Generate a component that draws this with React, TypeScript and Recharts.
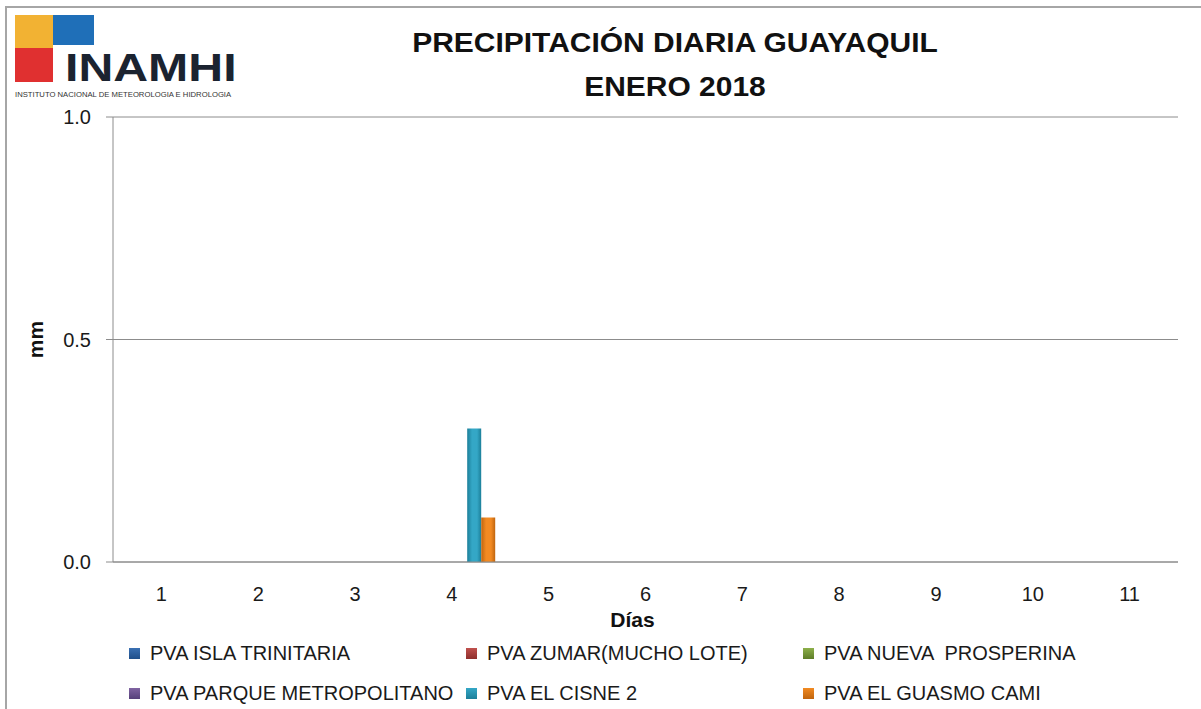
import React from 'react';
import { BarChart, Bar, XAxis, YAxis, CartesianGrid, Legend } from 'recharts';

const dias = ['1', '2', '3', '4', '5', '6', '7', '8', '9', '10', '11'];

const islaTrinitaria = [0, 0, 0, 0, 0, 0, 0, 0, 0, 0, 0];
const zumar = [0, 0, 0, 0, 0, 0, 0, 0, 0, 0, 0];
const nuevaProsperina = [0, 0, 0, 0, 0, 0, 0, 0, 0, 0, 0];
const parqueMetropolitano = [0, 0, 0, 0, 0, 0, 0, 0, 0, 0, 0];
const elCisne2 = [0, 0, 0, 0.3, 0, 0, 0, 0, 0, 0, 0];
const elGuasmoCami = [0, 0, 0, 0.1, 0, 0, 0, 0, 0, 0, 0];

const yTicks = [0, 0.5, 1];

const series = [
  { key: 'isla', name: 'PVA ISLA TRINITARIA', values: islaTrinitaria, color: '#3a70b3', dark: '#1f4f8a' },
  { key: 'zumar', name: 'PVA ZUMAR(MUCHO LOTE)', values: zumar, color: '#c0504d', dark: '#8e2f2c' },
  { key: 'prosperina', name: 'PVA NUEVA  PROSPERINA', values: nuevaProsperina, color: '#8db04a', dark: '#5e7d28' },
  { key: 'parque', name: 'PVA PARQUE METROPOLITANO', values: parqueMetropolitano, color: '#8064a2', dark: '#56407a' },
  { key: 'cisne', name: 'PVA EL CISNE 2', values: elCisne2, color: '#34a7c6', dark: '#1c7f99' },
  { key: 'guasmo', name: 'PVA EL GUASMO CAMI', values: elGuasmoCami, color: '#f28a22', dark: '#c0650e' },
];

const data = dias.map((d, i) => {
  const row: Record<string, string | number> = { dia: d };
  series.forEach((s) => {
    row[s.key] = s.values[i];
  });
  return row;
});

const font = '"Liberation Sans", Arial, sans-serif';

const LegendContent = () => (
  <div style={{ display: 'grid', gridTemplateColumns: '337px 337px 340px', rowGap: 18, fontFamily: font, fontSize: 20, color: '#1a1a1a' }}>
    {series.map((s) => (
      <div key={s.key} style={{ display: 'flex', alignItems: 'center', whiteSpace: 'pre', height: 22 }}>
        <span
          style={{
            display: 'inline-block',
            width: 11,
            height: 11,
            marginRight: 10,
            background: `linear-gradient(to bottom, ${s.color}, ${s.dark})`,
          }}
        />
        {s.name}
      </div>
    ))}
  </div>
);

// logotipo aproximado
const Logo = () => (
  <div style={{ position: 'absolute', left: 15, top: 15, width: 222, height: 84 }}>
    <div style={{ position: 'absolute', left: 0, top: 0, width: 38, height: 33, background: '#f2b233' }} />
    <div style={{ position: 'absolute', left: 38, top: 0, width: 41, height: 30, background: '#1f6fb8' }} />
    <div style={{ position: 'absolute', left: 0, top: 33, width: 38, height: 34, background: '#e03030' }} />
    <div
      style={{
        position: 'absolute',
        left: 50,
        top: 34,
        fontFamily: font,
        fontWeight: 'bold',
        fontSize: 38,
        lineHeight: '38px',
        color: '#1b2330',
        transform: 'scaleX(1.27)',
        transformOrigin: 'left center',
        whiteSpace: 'nowrap',
      }}
    >
      INAMHI
    </div>
    <div style={{ position: 'absolute', left: 0, top: 75, fontFamily: font, fontSize: 7.7, lineHeight: '9px', color: '#333', whiteSpace: 'nowrap' }}>
      INSTITUTO NACIONAL DE METEOROLOGIA E HIDROLOGIA
    </div>
  </div>
);

const App = () => {
  return (
    <div style={{ position: 'absolute', left: 0, top: 0, width: 1201, height: 709, background: '#fff', overflow: 'hidden' }}>
      <div style={{ position: 'absolute', left: 5, top: 6, width: 1210, height: 720, border: '2px solid #a6a6a6' }} />
      <Logo />
      <div
        style={{
          position: 'absolute',
          left: 375,
          width: 600,
          top: 21,
          textAlign: 'center',
          fontFamily: font,
          fontWeight: 'bold',
          fontSize: 27,
          lineHeight: '44px',
          color: '#111',
          transform: 'scaleX(1.11)',
          transformOrigin: 'center',
        }}
      >
        PRECIPITACIÓN DIARIA GUAYAQUIL
        <br />
        ENERO 2018
      </div>
      <div style={{ position: 'absolute', left: 0, top: 0 }}>
        <BarChart
          width={1201}
          height={709}
          data={data}
          margin={{ top: 117, right: 23, bottom: 117, left: 53 }}
          barCategoryGap="8%"
          barGap={0}
        >
          <defs>
            {series.map((s) => (
              <linearGradient key={s.key} id={`grad-${s.key}`} x1="0" y1="0" x2="1" y2="0">
                <stop offset="0%" stopColor={s.dark} />
                <stop offset="35%" stopColor={s.color} />
                <stop offset="70%" stopColor={s.color} />
                <stop offset="100%" stopColor={s.dark} />
              </linearGradient>
            ))}
          </defs>
          <CartesianGrid vertical={false} stroke="#8c8c8c" />
          <XAxis
            dataKey="dia"
            height={30}
            stroke="#8c8c8c"
            tickLine={false}
            tick={{ fill: '#1a1a1a', fontSize: 20, fontFamily: font }}
            tickMargin={19}
            label={{
              content: ({ viewBox }: any) => (
                <text
                  x={viewBox.x + viewBox.width / 2 - 13}
                  y={viewBox.y + 65}
                  textAnchor="middle"
                  fontFamily={font}
                  fontWeight="bold"
                  fontSize={21}
                  fill="#111"
                >
                  Días
                </text>
              ),
            }}
          />
          <YAxis
            width={60}
            domain={[0, 1]}
            ticks={yTicks}
            tickFormatter={(v: number) => v.toFixed(1)}
            stroke="#8c8c8c"
            tickSize={7}
            tickMargin={15}
            tick={{ fill: '#1a1a1a', fontSize: 20, fontFamily: font }}
            label={{
              content: ({ viewBox }: any) => (
                <text
                  x={35}
                  y={viewBox.y + viewBox.height / 2}
                  transform={`rotate(-90 35 ${viewBox.y + viewBox.height / 2})`}
                  textAnchor="middle"
                  dominantBaseline="central"
                  fontFamily={font}
                  fontWeight="bold"
                  fontSize={21}
                  fill="#111"
                >
                  mm
                </text>
              ),
            }}
          />
          <Legend
            layout="horizontal"
            verticalAlign="middle"
            align="center"
            content={<LegendContent />}
            wrapperStyle={{ position: 'absolute', left: 129, top: 642, width: 1030 }}
          />
          {series.map((s) => (
            <Bar key={s.key} dataKey={s.key} name={s.name} fill={`url(#grad-${s.key})`} isAnimationActive={false} />
          ))}
        </BarChart>
      </div>
    </div>
  );
};

export default App;
